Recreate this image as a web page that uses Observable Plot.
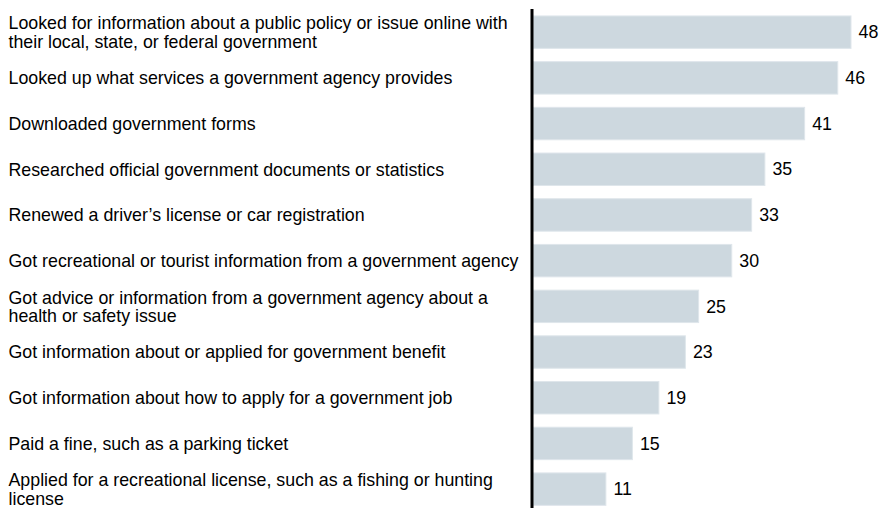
<!DOCTYPE html>
<html>
<head>
<meta charset="utf-8">
<script src="https://cdn.jsdelivr.net/npm/d3@7"></script>
<script src="https://cdn.jsdelivr.net/npm/@observablehq/plot@0.6"></script>
<style>
  html, body { margin: 0; padding: 0; background: #fff; }
  #chart svg { display: block; }
</style>
</head>
<body>
<div id="chart"></div>
<script>
const categories = [
  "Looked for information about a public policy or issue online with\ntheir local, state, or federal government",
  "Looked up what services a government agency provides",
  "Downloaded government forms",
  "Researched official government documents or statistics",
  "Renewed a driver\u2019s license or car registration",
  "Got recreational or tourist information from a government agency",
  "Got advice or information from a government agency about a\nhealth or safety issue",
  "Got information about or applied for government benefit",
  "Got information about how to apply for a government job",
  "Paid a fine, such as a parking ticket",
  "Applied for a recreational license, such as a fishing or hunting\nlicense"
];
const values = [48, 46, 41, 35, 33, 30, 25, 23, 19, 15, 11];

const data = categories.map((c, i) => ({label: c, value: values[i]}));
const font = "Liberation Sans, Arial, Helvetica, sans-serif";

const chart = Plot.plot({
  width: 879,
  height: 508,
  marginLeft: 533,
  marginRight: 28,
  marginTop: 9,
  marginBottom: 0,
  style: {fontFamily: font, fontSize: "17.8px", color: "#000", background: "#fff"},
  x: {domain: [0, 48], axis: null},
  y: {domain: categories, range: [9.1, 512.2], paddingInner: 0.29, paddingOuter: 0.15, round: false, axis: null},
  marks: [
    Plot.barX(data, {y: "label", x: "value", fill: "#cdd8df", stroke: "#dfe6eb", strokeWidth: 1}),
    Plot.text(data, {y: "label", x: "value", text: d => String(d.value), textAnchor: "start", dx: 7, fontSize: 17.8, fill: "#000"}),
    Plot.text(data, {y: "label", text: "label", frameAnchor: "left", dx: -525, textAnchor: "start", lineHeight: 1.04, fontSize: 17.8, fill: "#000"}),
    Plot.ruleX([0], {stroke: "#000", strokeWidth: 3, dx: -1.5})
  ]
});
document.getElementById("chart").appendChild(chart);
</script>
</body>
</html>
